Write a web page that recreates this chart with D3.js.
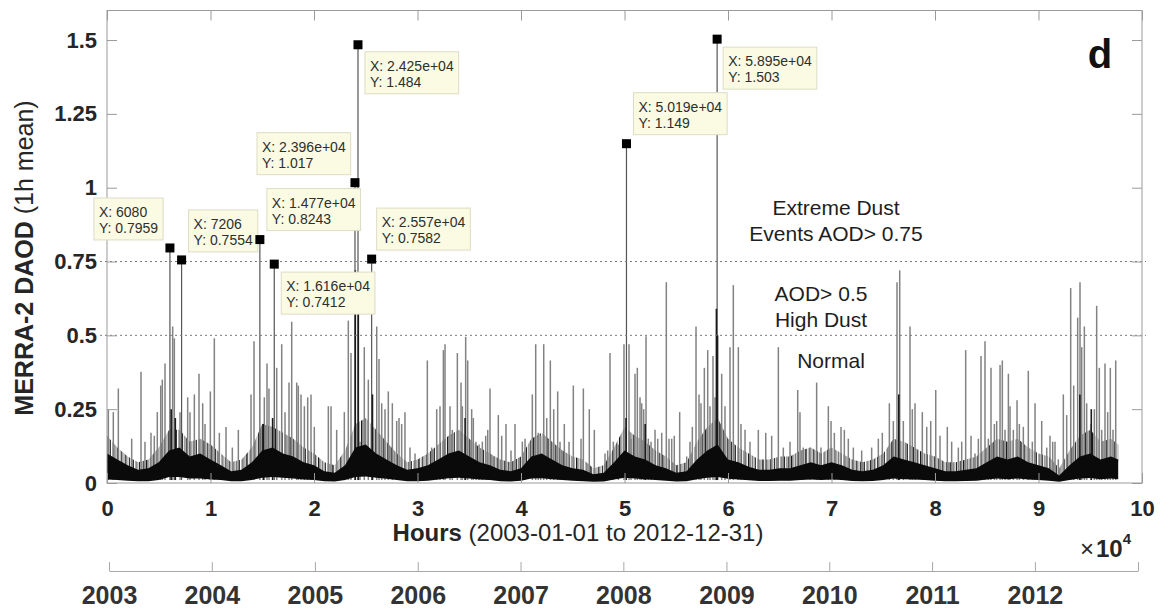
<!DOCTYPE html>
<html>
<head>
<meta charset="utf-8">
<script src="https://cdn.jsdelivr.net/npm/d3@7"></script>
<style>
  body { margin: 0; background: #fff; }
  text { font-family: "Liberation Sans", Arial, Helvetica, sans-serif; }
</style>
</head>
<body>
<svg id="chart" width="1162" height="611"></svg>
<script>
// ---- Data: MERRA-2 dust AOD, hourly, 2003-2012 ----
// Background hourly band: [hour, lower edge, dense-core top, fuzzy-zone top]
const band = [
  [0,0.012,0.10,0.16],[1000,0.010,0.08,0.12],[2000,0.008,0.06,0.09],[3000,0.006,0.045,0.07],
  [4000,0.006,0.05,0.08],[5000,0.010,0.07,0.12],[6000,0.020,0.11,0.18],[7000,0.020,0.12,0.18],
  [8000,0.015,0.09,0.14],[9000,0.015,0.10,0.15],[10000,0.012,0.08,0.13],[11000,0.010,0.06,0.10],
  [12000,0.006,0.04,0.07],[13000,0.006,0.045,0.08],[14000,0.010,0.07,0.12],[15000,0.018,0.11,0.20],
  [16000,0.020,0.12,0.19],[17000,0.018,0.10,0.17],[18000,0.015,0.09,0.15],[19000,0.012,0.07,0.12],
  [20000,0.010,0.06,0.10],[21000,0.006,0.04,0.07],[22000,0.005,0.035,0.06],[23000,0.010,0.06,0.11],
  [24000,0.020,0.12,0.20],[25000,0.022,0.13,0.22],[26000,0.018,0.10,0.18],[27000,0.014,0.08,0.14],
  [28000,0.010,0.06,0.10],[29000,0.006,0.045,0.07],[30000,0.006,0.05,0.08],[31000,0.008,0.06,0.10],
  [32000,0.012,0.08,0.13],[33000,0.016,0.10,0.16],[34000,0.018,0.11,0.18],[35000,0.015,0.09,0.15],
  [36000,0.012,0.07,0.12],[37000,0.010,0.06,0.10],[38000,0.006,0.045,0.08],[39000,0.005,0.04,0.07],
  [40000,0.008,0.05,0.09],[41000,0.015,0.09,0.15],[42000,0.016,0.10,0.17],[43000,0.013,0.08,0.14],
  [44000,0.010,0.06,0.11],[45000,0.008,0.05,0.09],[46000,0.006,0.045,0.08],[47000,0.004,0.03,0.05],
  [48000,0.005,0.035,0.06],[49000,0.012,0.07,0.12],[50000,0.018,0.11,0.19],[51000,0.015,0.09,0.16],
  [52000,0.013,0.08,0.14],[53000,0.010,0.06,0.11],[54000,0.008,0.05,0.09],[55000,0.005,0.035,0.06],
  [56000,0.006,0.04,0.07],[57000,0.013,0.08,0.14],[58000,0.018,0.11,0.19],[59000,0.020,0.13,0.22],
  [60000,0.014,0.08,0.15],[61000,0.012,0.07,0.12],[62000,0.009,0.055,0.10],[63000,0.007,0.045,0.08],
  [64000,0.007,0.045,0.08],[65000,0.008,0.05,0.09],[66000,0.008,0.05,0.09],[67000,0.010,0.06,0.11],
  [68000,0.012,0.07,0.12],[69000,0.010,0.06,0.10],[70000,0.012,0.07,0.12],[71000,0.010,0.06,0.10],
  [72000,0.007,0.045,0.08],[73000,0.006,0.04,0.07],[74000,0.007,0.045,0.08],[75000,0.010,0.06,0.10],
  [76000,0.015,0.09,0.15],[77000,0.013,0.08,0.14],[78000,0.012,0.07,0.12],[79000,0.010,0.06,0.10],
  [80000,0.008,0.05,0.09],[81000,0.006,0.04,0.07],[82000,0.006,0.04,0.07],[83000,0.007,0.045,0.08],
  [84000,0.008,0.05,0.09],[85000,0.012,0.07,0.12],[86000,0.015,0.09,0.15],[87000,0.013,0.08,0.14],
  [88000,0.015,0.09,0.15],[89000,0.012,0.07,0.12],[90000,0.010,0.06,0.10],[91000,0.008,0.05,0.09],
  [92000,0.004,0.025,0.05],[93000,0.010,0.06,0.11],[94000,0.015,0.09,0.16],[95000,0.017,0.10,0.18],
  [96000,0.013,0.08,0.14],[97000,0.015,0.09,0.15],[97700,0.013,0.08,0.13]
];

// Isolated dust peaks: [hour, AOD]
const spikes = [
  [130,0.25],[610,0.24],[1095,0.32],[2385,0.15],[3285,0.377],[3670,0.14],[4250,0.17],[4570,0.16],
  [4860,0.24],[5190,0.33],[5345,0.35],[5605,0.405],[6345,0.53],[6505,0.49],[7055,0.24],[7795,0.29],
  [8020,0.24],[8440,0.30],[8890,0.37],[9245,0.27],[9470,0.20],[9985,0.31],[10370,0.49],[10855,0.17],
  [11500,0.19],[12110,0.12],[12690,0.18],[13915,0.30],[14205,0.48],[15200,0.29],[15460,0.405],[15650,0.32],
  [16395,0.39],[16880,0.47],[17200,0.24],[17585,0.34],[17845,0.546],[18330,0.34],[18485,0.33],[18745,0.30],
  [19070,0.26],[19390,0.29],[19710,0.30],[20030,0.19],[21385,0.26],[21645,0.26],[22190,0.18],[22930,0.24],
  [23315,0.55],[23575,0.44],[24445,0.14],[24860,0.46],[25250,0.35],[26060,0.53],[26280,0.42],[26540,0.27],
  [26860,0.25],[27180,0.31],[27570,0.27],[27990,0.21],[28215,0.22],[28470,0.20],[28790,0.24],[29275,0.12],
  [29760,0.10],[30950,0.415],[31370,0.12],[31855,0.25],[32175,0.26],[32500,0.45],[32660,0.47],[33140,0.26],
  [33365,0.18],[33850,0.44],[34205,0.34],[34335,0.26],[34655,0.495],[34850,0.415],[35235,0.25],[35395,0.22],
  [35650,0.14],[35945,0.13],[36265,0.14],[36590,0.16],[36785,0.18],[37005,0.32],[37330,0.09],[37810,0.23],
  [38135,0.16],[38550,0.20],[39035,0.11],[39420,0.20],[40130,0.14],[40390,0.15],[41095,0.30],[41420,0.47],
  [41675,0.17],[41905,0.16],[42195,0.47],[42485,0.22],[42835,0.415],[43160,0.25],[43545,0.31],[43770,0.14],
  [44185,0.20],[44640,0.14],[45055,0.33],[45800,0.15],[46025,0.32],[46600,0.25],[47085,0.18],[48115,0.10],
  [48375,0.11],[48600,0.44],[48920,0.14],[49405,0.13],[49950,0.47],[50435,0.47],[50630,0.15],[51015,0.37],
  [51240,0.39],[51500,0.29],[51660,0.27],[51855,0.25],[52080,0.497],[52300,0.15],[52560,0.14],[52950,0.18],
  [53210,0.15],[53595,0.17],[54040,0.68],[54300,0.15],[54560,0.15],[54810,0.16],[55330,0.24],[56010,0.09],
  [56330,0.14],[56555,0.19],[56910,0.53],[57200,0.30],[57390,0.27],[57715,0.39],[58040,0.45],[58260,0.26],
  [58550,0.43],[58745,0.29],[59390,0.37],[59710,0.26],[60195,0.46],[60515,0.67],[61000,0.46],[61255,0.20],
  [61645,0.18],[62125,0.14],[62930,0.18],[63645,0.17],[64220,0.16],[64865,0.46],[65345,0.12],[65990,0.14],
  [66735,0.315],[66955,0.24],[67275,0.12],[67925,0.12],[68565,0.34],[68985,0.12],[69695,0.26],[69955,0.21],
  [70275,0.17],[70920,0.19],[71240,0.18],[71625,0.15],[72110,0.12],[72915,0.11],[73880,0.12],[74525,0.15],
  [74910,0.17],[75590,0.27],[75975,0.21],[76330,0.68],[76590,0.72],[76940,0.21],[77585,0.53],[77810,0.25],
  [78070,0.27],[78775,0.24],[79200,0.19],[79585,0.21],[80070,0.315],[80485,0.16],[81190,0.19],[81610,0.14],
  [82255,0.12],[82580,0.14],[82965,0.45],[83480,0.16],[83865,0.10],[84190,0.15],[84445,0.43],[84830,0.48],
  [85155,0.15],[85410,0.39],[85735,0.20],[85960,0.21],[86285,0.40],[86505,0.415],[86765,0.18],[87090,0.37],
  [87250,0.26],[87570,0.18],[87925,0.28],[88150,0.20],[88535,0.19],[89015,0.38],[89405,0.14],[89665,0.27],
  [90310,0.21],[90795,0.12],[91110,0.16],[91370,0.14],[91595,0.14],[91915,0.08],[92400,0.30],[92725,0.23],
  [93110,0.66],[93400,0.33],[93785,0.56],[94010,0.68],[94175,0.46],[94430,0.53],[94655,0.27],[95075,0.20],
  [95395,0.25],[95620,0.60],[95875,0.39],[96105,0.18],[96425,0.405],[96685,0.24],[96940,0.39],[97200,0.18],
  [97460,0.415]
];

// Dense (dark) excursions inside the strongest events: [hour, AOD]
const denseBursts = [
  [6200,0.25],[6600,0.22],[15100,0.20],[16000,0.22],[23990,0.72],[24280,0.62],[25650,0.30],
  [34600,0.22],[50150,0.22],[52000,0.20],[58880,0.59],[58990,0.50],[76500,0.30],[94000,0.30],[95100,0.25]
];

// Annotated extreme events (data tips)
const tipHours  = [6080, 7206, 14770, 16160, 23960, 24250, 25570, 50190, 58950];
const tipValues = [0.7959, 0.7554, 0.8243, 0.7412, 1.017, 1.484, 0.7582, 1.149, 1.503];
// Data-tip box offsets from each marker (pixels), same order as tipHours
const tipOffsets = [[-76,-50],[7,-50],[7,-51],[7,8],[-98,-50],[7,7],[5,-51],[7,-51],[6,8]];

// Axis ticks and labels
const yTicks = [0, 0.25, 0.5, 0.75, 1, 1.25, 1.5];
const xTicks = [0,10000,20000,30000,40000,50000,60000,70000,80000,90000,100000];
const thresholds = [0.5, 0.75];
const years = [2003,2004,2005,2006,2007,2008,2009,2010,2011,2012,2013];
const zoneLabels = [
  {lines: ["Extreme Dust", "Events AOD> 0.75"], x: 836, y: 215},
  {lines: ["AOD> 0.5", "High Dust"], x: 821, y: 301},
  {lines: ["Normal"], x: 831, y: 368}
];

// ---- Layout ----
const svg = d3.select("#chart");
const L = 107, R = 1142, T = 10.5, B = 483;
const x = d3.scaleLinear().domain([0, 100000]).range([L, R]);
const y = d3.scaleLinear().domain([0, 1.6]).range([B, T]);
const ink = "#262626", axisGrey = "#9a9a9a";

// Stroke texture for the densely overplotted hourly trace
const defs = svg.append("defs");
const hazePat = defs.append("pattern").attr("id", "haze")
  .attr("patternUnits", "userSpaceOnUse").attr("width", 43).attr("height", 4);
[[0,1.2,"#333"],[2.2,0.8,"#666"],[3.5,1.4,"#1e1e1e"],[6,0.7,"#888"],[7.4,1,"#3a3a3a"],
 [9.8,1.3,"#222"],[12,0.7,"#777"],[13.6,1.2,"#2e2e2e"],[15.5,0.6,"#666"],[17,1.5,"#1a1a1a"],
 [19.5,0.8,"#555"],[21.3,1,"#444"],[23.6,1.3,"#262626"],[26,0.6,"#888"],[27.4,1.1,"#333"],
 [29.5,0.9,"#5a5a5a"],[31.2,1.5,"#1c1c1c"],[33.8,0.7,"#777"],[35.2,1.2,"#2a2a2a"],
 [37.6,0.8,"#555"],[39.2,1.3,"#222"],[41.6,0.7,"#666"]]
  .forEach(([px, w, c]) => hazePat.append("rect").attr("x", px).attr("y", 0)
    .attr("width", w).attr("height", 4).attr("fill", c));

const gSeries = svg.append("g");

// Fuzzy zone of frequent moderate values
gSeries.append("path")
  .datum(band)
  .attr("d", d3.area().x(d => x(d[0])).y0(d => y(d[2]) + 2).y1(d => y(d[3])))
  .attr("fill", "url(#haze)");

// Peaks
gSeries.selectAll("line.spike")
  .data(spikes)
  .join("line").attr("class", "spike")
  .attr("x1", d => x(d[0])).attr("x2", d => x(d[0]))
  .attr("y1", y(0.01)).attr("y2", d => y(d[1]))
  .attr("stroke", "#828282").attr("stroke-width", 1.5);

gSeries.selectAll("line.tipline")
  .data(tipHours.map((h, i) => [h, tipValues[i]]))
  .join("line").attr("class", "tipline")
  .attr("x1", d => x(d[0])).attr("x2", d => x(d[0]))
  .attr("y1", y(0.01)).attr("y2", d => y(d[1]))
  .attr("stroke", "#555").attr("stroke-width", 1.2);

gSeries.selectAll("line.dense")
  .data(denseBursts)
  .join("line").attr("class", "dense")
  .attr("x1", d => x(d[0])).attr("x2", d => x(d[0]))
  .attr("y1", y(0.01)).attr("y2", d => y(d[1]))
  .attr("stroke", "#1a1a1a").attr("stroke-width", 1.6);

// Dense hourly core
gSeries.append("path")
  .datum(band)
  .attr("d", d3.area().x(d => x(d[0])).y0(d => y(d[1])).y1(d => y(d[2])))
  .attr("fill", "#0a0a0a");

// Threshold lines
svg.selectAll("line.thr").data(thresholds).join("line").attr("class", "thr")
  .attr("x1", L - 7).attr("x2", R + 4)
  .attr("y1", d => y(d)).attr("y2", d => y(d))
  .attr("stroke", "#7a7a7a").attr("stroke-width", 1).attr("stroke-dasharray", "2,3");

// Axes box
const axisStyle = g => {
  g.selectAll(".domain").remove();
  g.selectAll(".tick line").attr("stroke", axisGrey);
  g.selectAll(".tick text").attr("fill", ink).attr("font-weight", "bold").attr("font-size", 22);
};
svg.append("rect").attr("x", L).attr("y", T).attr("width", R - L).attr("height", B - T)
  .attr("fill", "none").attr("stroke", axisGrey).attr("stroke-width", 1);

svg.append("g").attr("transform", `translate(${L},0)`)
  .call(d3.axisLeft(y).tickValues(yTicks).tickFormat(d => String(d)).tickSizeInner(-10).tickSizeOuter(0).tickPadding(10))
  .call(axisStyle);
svg.append("g").attr("transform", `translate(${R},0)`)
  .call(d3.axisRight(y).tickValues(yTicks).tickFormat("").tickSizeInner(-10).tickSizeOuter(0))
  .call(axisStyle);
svg.append("g").attr("transform", `translate(0,${B})`)
  .call(d3.axisBottom(x).tickValues(xTicks).tickFormat(d => String(d / 10000)).tickSizeInner(-10).tickSizeOuter(0).tickPadding(17))
  .call(axisStyle);
svg.append("g").attr("transform", `translate(0,${T})`)
  .call(d3.axisTop(x).tickValues(xTicks).tickFormat("").tickSizeInner(-10).tickSizeOuter(0))
  .call(axisStyle);

// Axis titles
svg.append("text").attr("transform", "translate(33,258) rotate(-90)")
  .attr("text-anchor", "middle").attr("font-size", 25).attr("fill", ink)
  .call(t => {
    t.append("tspan").attr("font-weight", "bold").text("MERRA-2 DAOD");
    t.append("tspan").text(" (1h mean)");
  });
svg.append("text").attr("x", 578).attr("y", 541)
  .attr("text-anchor", "middle").attr("font-size", 24).attr("fill", ink)
  .call(t => {
    t.append("tspan").attr("font-weight", "bold").text("Hours");
    t.append("tspan").text(" (2003-01-01 to 2012-12-31)");
  });
svg.append("text").attr("x", 1080).attr("y", 557).attr("font-size", 24).attr("fill", ink)
  .call(t => {
    t.append("tspan").text("\u00d7");
    t.append("tspan").attr("font-weight", "bold").attr("dx", 2).text("10");
    t.append("tspan").attr("font-weight", "bold").attr("font-size", 15).attr("dy", -13).text("4");
  });

// Panel letter
svg.append("text").attr("x", 1100).attr("y", 68).attr("text-anchor", "middle")
  .attr("font-size", 40).attr("font-weight", "bold").attr("fill", "#111").text("d");

// Zone labels
zoneLabels.forEach(z => {
  svg.append("text").attr("x", z.x).attr("y", z.y).attr("text-anchor", "middle")
    .attr("font-size", 21).attr("fill", "#1e1e1e")
    .selectAll("tspan").data(z.lines).join("tspan")
    .attr("x", z.x).attr("dy", (d, i) => i === 0 ? 0 : 26).text(d => d);
});

// Data tips
const fmtX = h => {
  if (h < 10000) return String(h);
  const [m, e] = h.toExponential(3).split("e");
  const sign = e[0], ex = e.slice(1).padStart(2, "0");
  return `${m}e${sign}${ex}`;
};
const fmtY = d3.format(".4");
const gTips = svg.append("g");
tipHours.forEach((h, i) => {
  const px = x(h), py = y(tipValues[i]);
  const bx = px + tipOffsets[i][0], by = py + tipOffsets[i][1];
  const g = gTips.append("g");
  const rect = g.append("rect").attr("x", bx).attr("y", by).attr("height", 42)
    .attr("fill", "#fbfbe4").attr("stroke", "#dcdcc6").attr("stroke-width", 1);
  const t1 = g.append("text").attr("x", bx + 5).attr("y", by + 19).attr("font-size", 14)
    .attr("fill", "#2e2e2e").text("X: " + fmtX(h));
  const t2 = g.append("text").attr("x", bx + 5).attr("y", by + 35).attr("font-size", 14)
    .attr("fill", "#2e2e2e").text("Y: " + fmtY(tipValues[i]));
  const w = Math.max(t1.node().getComputedTextLength(), t2.node().getComputedTextLength()) + 10;
  rect.attr("width", w);
  gTips.append("rect").attr("x", px - 4.5).attr("y", py - 4.5).attr("width", 9).attr("height", 9)
    .attr("fill", "#000");
});

// Calendar-year axis
const yearScale = d3.scaleTime()
  .domain([new Date(2003, 0, 1), new Date(2013, 0, 1)])
  .range([109, 1138]);
const gYear = svg.append("g").attr("transform", "translate(0,571)")
  .call(d3.axisBottom(yearScale)
    .tickValues(years.map(v => new Date(v, 0, 1)))
    .tickFormat(d => d.getFullYear() < 2013 ? String(d.getFullYear()) : "")
    .tickSizeInner(-9).tickSizeOuter(0).tickPadding(15));
gYear.select(".domain").attr("stroke", "#a8a8a8");
gYear.selectAll(".tick line").attr("stroke", "#a8a8a8");
gYear.selectAll(".tick text").attr("fill", "#333").attr("font-weight", "bold").attr("font-size", 25);
</script>
</body>
</html>
